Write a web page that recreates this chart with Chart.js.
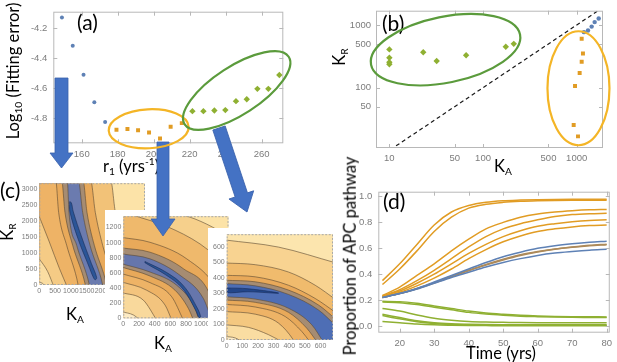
<!DOCTYPE html>
<html>
<head>
<meta charset="utf-8">
<script src="https://cdn.jsdelivr.net/npm/chart.js@4.4.1/dist/chart.umd.min.js"></script>
<style>
body { margin: 0; background: #fff; }
#wrap { position: relative; width: 617px; height: 362px; overflow: hidden; background: #fff; }
canvas { position: absolute; }
.cbox { background: #fff; }
.t { position: absolute; font-family: 'Liberation Sans Narrow', 'Lato', sans-serif; font-size: 16.5px; color: #000; white-space: nowrap; line-height: 1; transform: translate(-50%, -50%); }
.rot { transform: translate(-50%, -50%) rotate(-90deg); }
.lab { position: absolute; font-family: 'Liberation Sans Narrow', 'Lato', sans-serif; font-size: 21px; color: #000; line-height: 1; }
.t sub { font-size: 62%; vertical-align: -0.3em; }
.t sup { font-size: 62%; vertical-align: 0.7em; }
</style>
</head>
<body>
<div id="wrap">
  <canvas id="chA" width="300" height="175" style="left:0;top:0"></canvas>
  <canvas id="chB" width="317" height="175" style="left:300px;top:0"></canvas>
  <canvas id="chD" width="287" height="182" style="left:330px;top:180px"></canvas>
  <canvas id="chC1" class="cbox" width="134" height="121" style="left:14px;top:177px"></canvas>
  <canvas id="chC2" class="cbox" width="126" height="123" style="left:105px;top:210px"></canvas>
  <canvas id="chC3" class="cbox" width="128" height="124" style="left:208px;top:228px"></canvas>

  <div class="lab" style="left:77px;top:11px">(a)</div>
  <div class="t rot" style="left:14px;top:71px">Log<sub>10</sub> (Fitting error)</div>
  <div class="t" style="left:131px;top:166px">r<sub>1</sub> (yrs<sup>-1</sup>)</div>
  <div class="lab" style="left:382px;top:12px">(b)</div>
  <div class="t rot" style="left:340px;top:57px">K<sub>R</sub></div>
  <div class="t" style="left:503px;top:167px">K<sub>A</sub></div>
  <div class="lab" style="left:0;top:179px">(c)</div>
  <div class="t rot" style="left:8px;top:232px">K<sub>R</sub></div>
  <div class="t" style="left:75px;top:315px">K<sub>A</sub></div>
  <div class="t" style="left:163px;top:344px">K<sub>A</sub></div>
  <div class="lab" style="left:383px;top:190px">(d)</div>
  <div class="t rot" style="left:350px;top:256px">Proportion of APC pathway</div>
  <div class="t" style="left:501px;top:353px">Time (yrs)</div>

  <canvas id="over" width="617" height="362" style="left:0;top:0;pointer-events:none"></canvas>
</div>
<script>
// ---------- (a) fitting error against r1
const rBlue = [149, 155, 161, 167, 173];
const errBlue = [-4.126, -4.315, -4.509, -4.694, -4.826];
const rOrange = [179.3, 185.4, 191.3, 197.4, 203.5, 209.4, 215.6];
const errOrange = [-4.877, -4.873, -4.881, -4.896, -4.936, -4.858, -4.833];
const rGreen = [221.5, 227.6, 233.7, 239.8, 245.7, 251.7, 257.6, 263.7, 269.8];
const errGreen = [-4.753, -4.753, -4.749, -4.746, -4.686, -4.673, -4.604, -4.604, -4.511];
const rTicks = [160, 180, 200, 220, 240, 260];
const errTicks = [-4.8, -4.6, -4.4, -4.2];

// ---------- (b) KR against KA (log-log)
const kaBlue = [1197, 1321, 1445, 1556, 1718];
const krBlue = [770, 818, 944, 1113, 1271];
const kaOrange = [1131, 1167, 1131, 1076, 960, 929, 1033];
const krOrange = [605, 350, 260, 171, 106, 25.4, 16.7];
const kaGreen = [10, 10, 10, 10, 23, 32, 66, 175, 213];
const krGreen = [408, 300, 254, 236, 367, 266, 330, 450, 501];
const diagKA = [5, 3000];
const diagKR = [5, 3000];
const kaTicks = [10, 50, 100, 500, 1000];
const krTicks = [50, 100, 500, 1000];

// ---------- (d) proportion of APC pathway
const years = [15, 20, 25, 30, 35, 40, 45, 50, 55, 60, 65, 70, 75, 80];
const orangeFast1 = [0.35, 0.48, 0.63, 0.78, 0.88, 0.93, 0.955, 0.967, 0.972, 0.975, 0.977, 0.978, 0.978, 0.978];
const orangeFast2 = [0.32, 0.44, 0.58, 0.73, 0.84, 0.91, 0.94, 0.955, 0.963, 0.967, 0.969, 0.97, 0.97, 0.97];
const orangeMid1 = [0.235, 0.30, 0.39, 0.48, 0.58, 0.67, 0.75, 0.80, 0.84, 0.865, 0.88, 0.89, 0.897, 0.90];
const orangeMid2 = [0.23, 0.28, 0.35, 0.43, 0.52, 0.61, 0.69, 0.75, 0.79, 0.82, 0.845, 0.86, 0.867, 0.87];
const orangeMid3 = [0.23, 0.27, 0.33, 0.40, 0.48, 0.56, 0.63, 0.69, 0.735, 0.77, 0.79, 0.805, 0.815, 0.82];
const orangeMid4 = [0.225, 0.26, 0.31, 0.37, 0.44, 0.52, 0.59, 0.65, 0.695, 0.73, 0.75, 0.765, 0.775, 0.78];
const brown1 = [0.22, 0.25, 0.29, 0.335, 0.385, 0.43, 0.475, 0.515, 0.55, 0.575, 0.595, 0.61, 0.623, 0.632];
const brown2 = [0.22, 0.25, 0.288, 0.332, 0.38, 0.427, 0.47, 0.51, 0.545, 0.572, 0.593, 0.608, 0.62, 0.628];
const blue1 = [0.22, 0.25, 0.29, 0.34, 0.39, 0.44, 0.49, 0.535, 0.57, 0.60, 0.62, 0.635, 0.647, 0.655];
const blue2 = [0.22, 0.25, 0.285, 0.33, 0.375, 0.415, 0.455, 0.49, 0.52, 0.545, 0.563, 0.575, 0.585, 0.592];
const green1 = [0.19, 0.188, 0.175, 0.155, 0.135, 0.115, 0.10, 0.09, 0.082, 0.077, 0.074, 0.072, 0.071, 0.07];
const green2 = [0.185, 0.18, 0.165, 0.145, 0.125, 0.105, 0.092, 0.083, 0.076, 0.072, 0.069, 0.067, 0.066, 0.065];
const green3 = [0.135, 0.115, 0.085, 0.06, 0.045, 0.035, 0.03, 0.028, 0.026, 0.025, 0.025, 0.025, 0.025, 0.025];
const green4 = [0.09, 0.065, 0.04, 0.025, 0.017, 0.013, 0.011, 0.01, 0.01, 0.01, 0.01, 0.01, 0.01, 0.01];
const green5 = [0.08, 0.055, 0.033, 0.02, 0.013, 0.009, 0.007, 0.006, 0.005, 0.005, 0.005, 0.005, 0.005, 0.005];
const green6 = [0.035, 0.025, 0.015, 0.009, 0.006, 0.004, 0.003, 0.002, 0.002, 0.002, 0.002, 0.002, 0.002, 0.002];
const timeTicks = [20, 30, 40, 50, 60, 70, 80];
const propTicks = [0, 0.2, 0.4, 0.6, 0.8, 1.0];

// ---------- (c) contour lines [KA, KR], listed from the far side towards the origin
// plot c1
const c1R1 = [[-200, 3400], [2255, 3300], [2407, 2272], [2660, 1244], [2934, 216], [3008, -93]];
const c1R2 = [[-200, 3400], [1620, 3300], [1773, 2272], [2005, 1244], [2322, 216], [2396, -93]];
const c1R3 = [[-200, 3400], [1380, 3300], [1510, 2272], [1741, 1244], [2079, 216], [2153, -93]];
const c1R4 = [[-200, 3400], [1232, 3300], [1373, 2272], [1605, 1244], [1953, 216], [2027, -93]];
const c1L4 = [[-200, 3400], [885, 3300], [940, 2272], [1183, 1244], [1531, 216], [1605, -93]];
const c1L3 = [[-200, 3400], [705, 3300], [813, 2272], [1056, 1244], [1404, 216], [1478, -93]];
const c1L2 = [[-200, 3400], [518, 3300], [613, 2272], [866, 1244], [1183, 216], [1246, -93]];
const c1L1 = [[-10, 2169], [318, 1347], [634, 524], [898, -93]];
const c1L0 = [[-10, 833], [265, 421], [476, -93]];
const c1L00 = [[-10, 93], [128, 31], [212, -93]];
const c1Core = [[962, 2612], [972, 2283], [1225, 1449], [1552, 627], [1721, 216], [1774, 164], [1816, 236],
  [1647, 678], [1341, 1501], [1077, 2293], [1014, 2580], [962, 2612]];
const c1Ticks = [0, 500, 1000, 1500, 2000, 2500, 3000];

// plot c2
const c2A0 = [[-100, 1450], [765, 1363], [1063, 1245], [1361, 1070]];
const c2A1 = [[-100, 1450], [128, 1363], [553, 1215], [978, 983], [1361, 655]];
const c2A2 = [[-20, 1070], [340, 1005], [808, 786], [1191, 393], [1361, -22]];
const c2A3 = [[-20, 931], [340, 874], [765, 656], [1106, 306], [1191, -22]];
const c2A4 = [[-20, 852], [340, 786], [723, 568], [1020, 262], [1127, -22]];
const c2B1 = [[-20, 721], [340, 612], [680, 437], [893, 175], [969, -22]];
const c2B2 = [[-20, 677], [340, 559], [659, 371], [829, 131], [893, -22]];
const c2B3 = [[-20, 590], [340, 472], [617, 284], [765, -22]];
const c2B4 = [[-20, 481], [298, 371], [532, 175], [617, -22]];
const c2B5 = [[-20, 341], [255, 240], [425, -22]];
const c2B6 = [[-20, 87], [128, 44], [213, -22]];
const c2Core = [[276, 751], [553, 605], [765, 432], [935, 150], [985, 20], [965, 5], [920, 110],
  [750, 400], [540, 575], [276, 735], [276, 751]];
const c2XTicks = [0, 200, 400, 600, 800, 1000];
const c2YTicks = [0, 200, 400, 600, 800, 1000, 1200];

// plot c3
const c3T0 = [[-10, 643], [332, 597], [700, 495]];
const c3T1 = [[-10, 495], [183, 484], [395, 437], [566, 352], [700, 258]];
const c3T2 = [[-10, 416], [183, 406], [395, 352], [566, 267], [700, 175]];
const c3T3 = [[-10, 384], [183, 374], [395, 321], [587, 225], [700, 132]];
const c3T4 = [[-10, 363], [183, 348], [395, 293], [587, 193], [700, 90]];
const c3B4 = [[-10, 278], [183, 263], [395, 204], [544, 98], [620, -15]];
const c3B3 = [[-10, 257], [183, 242], [395, 178], [512, 76], [580, -15]];
const c3B2 = [[-10, 229], [183, 212], [374, 151], [480, 55], [535, -15]];
const c3B1 = [[-10, 183], [183, 166], [332, 108], [427, 0], [435, -15]];
const c3B0 = [[-10, 98], [140, 81], [268, 34], [360, -15]];
const c3B00 = [[-10, 23], [55, 13], [105, -15]];
const c3Core = [[-10, 335], [140, 329], [332, 301], [140, 310], [-10, 306], [-10, 335]];
const c3Ticks = [0, 100, 200, 300, 400, 500, 600];

// ellipse anchors in data units
const ellAOrange = [197.2, -4.871];
const ellAGreen = [246.1, -4.615];
const ellBGreen = [39.8, 404];
const ellBOrange = [1045, 98];

const BLUE = '#5E81B5', ORANGE = '#E19C24', GREEN = '#8FB032', BROWN = '#AD8A5A';
const tickFont = { family: "'Liberation Sans', sans-serif", size: 9.5 };
const pts = (xs, ys) => xs.map((x, i) => ({ x: x, y: ys[i] }));

// frame with inward ticks, as Mathematica draws it
const framePlugin = {
  id: 'frame',
  afterDatasetsDraw(chart, args, opts) {
    const { ctx, chartArea: a } = chart;
    ctx.save();
    ctx.strokeStyle = opts.color || '#b8b8b8';
    ctx.lineWidth = 1;
    if (opts.dash) ctx.setLineDash(opts.dash);
    ctx.strokeRect(a.left + 0.5, a.top + 0.5, a.width - 1, a.height - 1);
    ctx.setLineDash([]);
    const len = opts.tick || 0;
    if (len) {
      ctx.beginPath();
      chart.scales.x.ticks.forEach(t => {
        const p = Math.round(chart.scales.x.getPixelForValue(t.value)) + 0.5;
        ctx.moveTo(p, a.bottom); ctx.lineTo(p, a.bottom - len);
        ctx.moveTo(p, a.top); ctx.lineTo(p, a.top + len);
      });
      chart.scales.y.ticks.forEach(t => {
        const p = Math.round(chart.scales.y.getPixelForValue(t.value)) + 0.5;
        ctx.moveTo(a.left, p); ctx.lineTo(a.left + len, p);
        ctx.moveTo(a.right, p); ctx.lineTo(a.right - len, p);
      });
      ctx.stroke();
    }
    ctx.restore();
  }
};

const areaBg = {
  id: 'areaBg',
  beforeDatasetsDraw(chart, args, opts) {
    if (!opts.color) return;
    const { ctx, chartArea: a } = chart;
    ctx.save();
    ctx.fillStyle = opts.color;
    ctx.fillRect(a.left, a.top, a.width, a.height);
    ctx.restore();
  }
};

function axis(pos, min, max, ticks, fitSize, extra) {
  return Object.assign({
    type: 'linear', position: pos, min: min, max: max,
    grid: { display: false, drawTicks: false },
    border: { display: false },
    afterBuildTicks: s => { s.ticks = ticks.map(v => ({ value: v })); },
    afterFit: s => { if (pos === 'left') s.width = fitSize; else s.height = fitSize; },
    ticks: { font: tickFont, color: '#7c7c7c', padding: 5, autoSkip: false, maxRotation: 0, callback: v => String(v) }
  }, extra || {});
}

const base = {
  responsive: false, animation: false, devicePixelRatio: 1, events: []
};

// ---------- chart (a)
const chartA = new Chart(document.getElementById('chA'), {
  type: 'scatter',
  data: {
    datasets: [
      { data: pts(rBlue, errBlue), backgroundColor: BLUE, pointStyle: 'circle', pointRadius: 2, borderWidth: 0 },
      { data: pts(rOrange, errOrange), backgroundColor: ORANGE, pointStyle: 'rect', pointRadius: 2.8, borderWidth: 0 },
      { data: pts(rGreen, errGreen), backgroundColor: GREEN, pointStyle: 'rectRot', pointRadius: 3.2, borderWidth: 0 }
    ]
  },
  options: Object.assign({}, base, {
    layout: { padding: { left: 0, top: 4, right: 16.7, bottom: 0 } },
    scales: {
      x: axis('bottom', 144.2, 272, rTicks, 31.7),
      y: axis('left', -4.968, -4.088, errTicks, 53.3, {
        ticks: { font: tickFont, color: '#7c7c7c', padding: 6, autoSkip: false, callback: v => v.toFixed(1) }
      })
    },
    plugins: { legend: { display: false }, tooltip: { enabled: false }, frame: { tick: 4 } }
  }),
  plugins: [framePlugin]
});

// ---------- chart (b)
function logAxis(pos, min, max, ticks, fitSize) {
  const a = axis(pos, min, max, ticks, fitSize);
  a.type = 'logarithmic';
  return a;
}
const chartB = new Chart(document.getElementById('chB'), {
  type: 'scatter',
  data: {
    datasets: [
      { data: pts(kaBlue, krBlue), backgroundColor: BLUE, pointStyle: 'circle', pointRadius: 2.2, borderWidth: 0, order: 1 },
      { data: pts(kaOrange, krOrange), backgroundColor: ORANGE, pointStyle: 'rect', pointRadius: 2.8, borderWidth: 0, order: 1 },
      { data: pts(kaGreen, krGreen), backgroundColor: GREEN, pointStyle: 'rectRot', pointRadius: 3.2, borderWidth: 0, order: 1 },
      { data: pts(diagKA, diagKR), showLine: true, pointRadius: 0, borderColor: '#1a1a1a', borderWidth: 1.2, borderDash: [4, 3], order: 2 }
    ]
  },
  options: Object.assign({}, base, {
    layout: { padding: { left: 0, top: 7, right: 14, bottom: 0 } },
    scales: {
      x: logAxis('bottom', 7.2, 1910, kaTicks, 27),
      y: logAxis('left', 10.9, 1693, krTicks, 76)
    },
    plugins: { legend: { display: false }, tooltip: { enabled: false }, frame: { tick: 4 } }
  }),
  plugins: [framePlugin]
});

// ---------- chart (d)
const dSeries = [
  [green1, GREEN], [green2, GREEN], [green3, GREEN], [green4, GREEN], [green5, GREEN], [green6, GREEN],
  [blue1, BLUE], [blue2, BLUE],
  [orangeFast1, ORANGE], [orangeFast2, ORANGE], [orangeMid1, ORANGE], [orangeMid2, ORANGE],
  [orangeMid3, ORANGE], [orangeMid4, ORANGE],
  [brown1, BROWN], [brown2, BROWN]
];
const chartD = new Chart(document.getElementById('chD'), {
  type: 'line',
  data: {
    datasets: dSeries.map(([vals, col]) => ({
      data: pts(years, vals), borderColor: col, borderWidth: 1.5, pointRadius: 0,
      cubicInterpolationMode: 'monotone', fill: false
    }))
  },
  options: Object.assign({}, base, {
    layout: { padding: { left: 0, top: 7.3, right: 4, bottom: 0 } },
    scales: {
      x: axis('bottom', 13.8, 80.9, timeTicks, 29.3),
      y: axis('left', -0.052, 1.037, propTicks, 48.3, {
        ticks: { font: tickFont, color: '#7c7c7c', padding: 6, autoSkip: false, callback: v => v.toFixed(1) }
      })
    },
    plugins: { legend: { display: false }, tooltip: { enabled: false }, frame: { tick: 4 } }
  }),
  plugins: [framePlugin]
});

// ---------- contour charts (c)
function contourChart(id, lines, fills, core, coreColor, bg, xMax, yMax, xTicks, yTicks, pad) {
  const n = lines.length;
  const sets = lines.map((ln, i) => ({
    data: ln.map(([x, y]) => ({ x: x, y: y })),
    fill: 'start', backgroundColor: fills[i], borderColor: 'rgba(90,72,50,0.85)', borderWidth: 0.7,
    pointRadius: 0, cubicInterpolationMode: 'monotone', order: n + 1 - i
  }));
  sets.push({
    data: core.map(([x, y]) => ({ x: x, y: y })),
    fill: 'shape', backgroundColor: coreColor, borderColor: 'rgba(20,40,80,0.9)', borderWidth: 0.6,
    pointRadius: 0, tension: 0.4, order: 0
  });
  const cFont = { family: "'Liberation Sans', sans-serif", size: 7 };
  const ax = (pos, max, ticks, size) => axis(pos, 0, max, ticks, size, {
    ticks: { font: cFont, color: '#7c7c7c', padding: 2, autoSkip: false, maxRotation: 0, callback: v => String(v) }
  });
  return new Chart(document.getElementById(id), {
    type: 'line',
    data: { datasets: sets },
    options: Object.assign({}, base, {
      layout: { padding: { left: 0, top: pad.top, right: pad.right, bottom: 0 } },
      scales: {
        x: ax('bottom', xMax, xTicks, pad.bottom),
        y: ax('left', yMax, yTicks, pad.left)
      },
      plugins: {
        legend: { display: false }, tooltip: { enabled: false },
        areaBg: { color: bg }, frame: { color: '#a8a8a8', dash: [2, 1.5] }
      }
    }),
    plugins: [areaBg, framePlugin]
  });
}

contourChart('chC1',
  [c1R1, c1R2, c1R3, c1R4, c1L4, c1L3, c1L2, c1L1, c1L0, c1L00],
  ['#F2C278', '#E8A95A', '#A68C72', '#6B7BAF', '#A68C72', '#E8A95A', '#EEB366', '#F5CB85', '#FADDA2', '#FDEBC4'],
  c1Core, '#2B5597', '#FCE3A8', 3345, 3190, c1Ticks, c1Ticks,
  { left: 25.3, top: 4, right: 3, bottom: 13 });

contourChart('chC2',
  [c2A0, c2A1, c2A2, c2A3, c2A4, c2B1, c2B2, c2B3, c2B4, c2B5, c2B6],
  ['#F6D08C', '#EFB96C', '#E8A95A', '#A68C72', '#6676AC', '#A68C72', '#E8A95A', '#EEB366', '#F3C47E', '#F9D99C', '#FDEBC4'],
  c2Core, '#2B5597', '#FCE3A8', 1340, 1350, c2XTicks, c2YTicks,
  { left: 18.3, top: 5, right: 2.5, bottom: 14.7 });

contourChart('chC3',
  [c3T0, c3T1, c3T2, c3T3, c3T4, c3B4, c3B3, c3B2, c3B1, c3B0, c3B00],
  ['#F8D391', '#F0BB6D', '#E8A95A', '#A68C72', '#4E6EB5', '#A68C72', '#E8A95A', '#EEB366', '#F4C880', '#FADDA2', '#FDEBC4'],
  c3Core, '#23468A', '#FCE5AE', 680, 680, c3Ticks, c3Ticks,
  { left: 18.7, top: 6, right: 3, bottom: 12 });

// ---------- overlay: arrows and ellipses
const ov = document.getElementById('over').getContext('2d');
function arrow(x0, y0, x1, y1, shaft, head, headLen) {
  const ang = Math.atan2(y1 - y0, x1 - x0);
  const len = Math.hypot(x1 - x0, y1 - y0);
  ov.save();
  ov.translate(x0, y0);
  ov.rotate(ang);
  ov.beginPath();
  ov.moveTo(0, -shaft / 2);
  ov.lineTo(len - headLen, -shaft / 2);
  ov.lineTo(len - headLen, -head / 2);
  ov.lineTo(len, 0);
  ov.lineTo(len - headLen, head / 2);
  ov.lineTo(len - headLen, shaft / 2);
  ov.lineTo(0, shaft / 2);
  ov.closePath();
  ov.fillStyle = '#4472C4';
  ov.fill();
  ov.strokeStyle = '#3A62AC';
  ov.lineWidth = 0.8;
  ov.stroke();
  ov.restore();
}
arrow(61.5, 78, 61.5, 168, 13, 23, 15);
arrow(163, 142, 163, 236, 12, 24, 17);
arrow(219, 128, 247, 212, 13, 26, 18);

function ellipse(chart, offX, offY, at, rx, ry, rot, color) {
  const cx = chart.scales.x.getPixelForValue(at[0]) + offX;
  const cy = chart.scales.y.getPixelForValue(at[1]) + offY;
  ov.save();
  ov.beginPath();
  ov.ellipse(cx, cy, rx, ry, rot, 0, Math.PI * 2);
  ov.strokeStyle = color;
  ov.lineWidth = 2.2;
  ov.stroke();
  ov.restore();
}
ellipse(chartA, 0, 0, ellAOrange, 40, 19.5, -0.05, '#F4B526');
ellipse(chartA, 0, 0, ellAGreen, 62, 24, -0.576, '#5B9B3C');
ellipse(chartB, 300, 0, ellBGreen, 76, 33, -0.2, '#5B9B3C');
ellipse(chartB, 300, 0, ellBOrange, 31, 57, 0, '#F4B526');
</script>
</body>
</html>
